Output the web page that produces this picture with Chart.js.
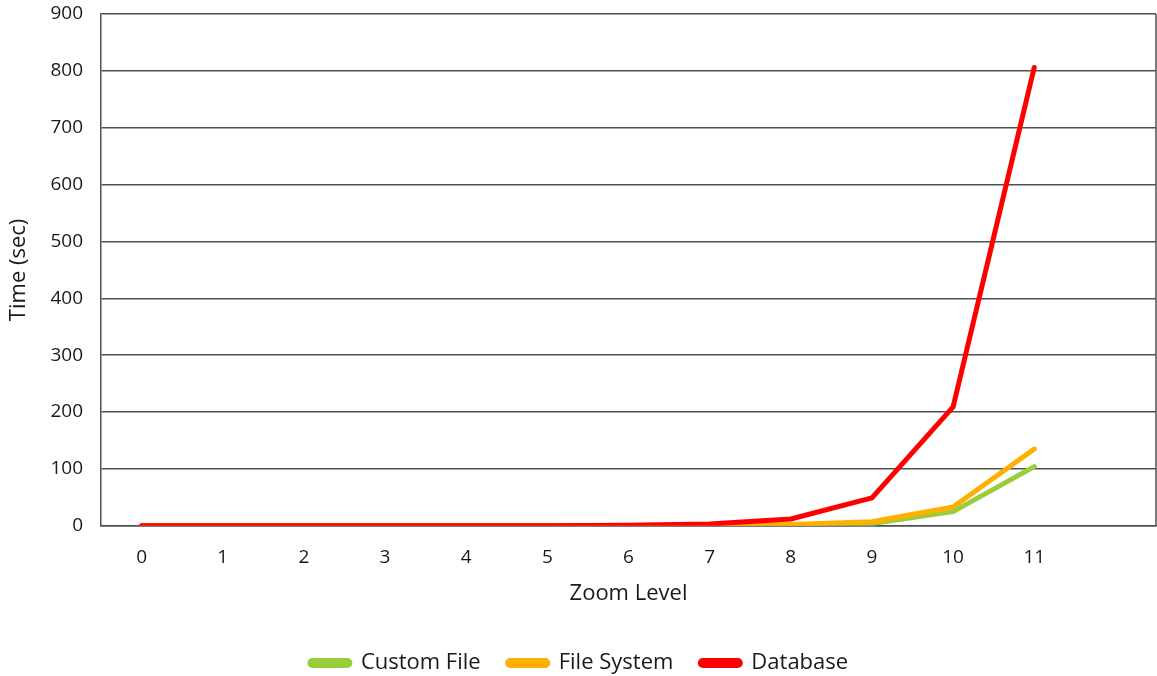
<!DOCTYPE html>
<html>
<head>
<meta charset="utf-8">
<style>
  html, body { margin: 0; padding: 0; background: #fff; }
  #wrap { width: 1157px; height: 676px; }
</style>
<script src="https://cdn.jsdelivr.net/npm/chart.js@4/dist/chart.umd.min.js"></script>
</head>
<body>
<div id="wrap"><canvas id="c" width="1157" height="676"></canvas></div>
<script>
// Zoom levels (one spare empty slot on the right)
const zoomLevels = ['0', '1', '2', '3', '4', '5', '6', '7', '8', '9', '10', '11', ''];

// Time in seconds per zoom level
const customFile = [0, 0, 0, 0, 0, 0, 0.5, 1, 2, 4, 25, 104];
const fileSystem = [0, 0, 0, 0, 0, 0, 0.5, 1, 2.5, 7, 33, 135];
const database   = [0, 0, 0, 0, 0, 0, 1, 3, 12, 49, 209, 806];

const yTicks = { min: 0, max: 900, step: 100 };

const FONT = '"Open Sans", Lato, sans-serif';
const AXIS = '#505050';
const TEXT = '#1a1a1a';

// Closes the plot frame on the right-hand side
const rightFrame = {
  id: 'rightFrame',
  afterDraw(chart) {
    const { ctx, chartArea } = chart;
    ctx.save();
    ctx.strokeStyle = AXIS;
    ctx.lineWidth = 1.5;
    ctx.beginPath();
    ctx.moveTo(chartArea.right, chartArea.top);
    ctx.lineTo(chartArea.right, chartArea.bottom);
    ctx.stroke();
    ctx.restore();
  }
};

const lineStyle = (color, order) => ({
  borderColor: color,
  backgroundColor: color,
  borderWidth: 5,
  pointRadius: 0,
  pointHoverRadius: 0,
  tension: 0,
  fill: false,
  order: order,
  borderCapStyle: 'round',
  borderJoinStyle: 'round'
});

new Chart(document.getElementById('c'), {
  type: 'line',
  data: {
    labels: zoomLevels,
    datasets: [
      { label: 'Custom File', data: customFile, ...lineStyle('#9ACD3A', 3) },
      { label: 'File System', data: fileSystem, ...lineStyle('#FFB000', 2) },
      { label: 'Database', data: database, ...lineStyle('#FF0000', 1) }
    ]
  },
  plugins: [rightFrame],
  options: {
    responsive: false,
    animation: false,
    layout: { padding: { left: 2, right: 1, top: 0, bottom: -8 } },
    plugins: {
      tooltip: { enabled: false },
      legend: {
        position: 'bottom',
        labels: {
          color: TEXT,
          font: { family: FONT, size: 22 },
          boxWidth: 40,
          boxHeight: 5,
          useBorderRadius: true,
          borderRadius: 2.5,
          padding: 27,
          sort: (a, b) => a.datasetIndex - b.datasetIndex
        }
      }
    },
    scales: {
      x: {
        offset: true,
        grid: { display: false },
        border: { display: true, color: AXIS, width: 1.5 },
        ticks: { color: TEXT, font: { family: FONT, size: 19 }, padding: 12, maxRotation: 0, autoSkip: false },
        title: { display: true, text: 'Zoom Level', color: TEXT, font: { family: FONT, size: 22 }, padding: { top: 0, bottom: 18 } }
      },
      y: {
        min: yTicks.min,
        max: yTicks.max,
        grid: { color: AXIS, lineWidth: 1.5, drawTicks: false },
        border: { display: true, color: AXIS, width: 1.5 },
        ticks: { stepSize: yTicks.step, color: TEXT, font: { family: FONT, size: 19 }, padding: 18 },
        title: { display: true, text: 'Time (sec)', color: TEXT, font: { family: FONT, size: 22 }, padding: { bottom: 0 } },
        afterFit(scale) { scale.paddingTop = 14; }
      }
    }
  }
});
</script>
</body>
</html>
